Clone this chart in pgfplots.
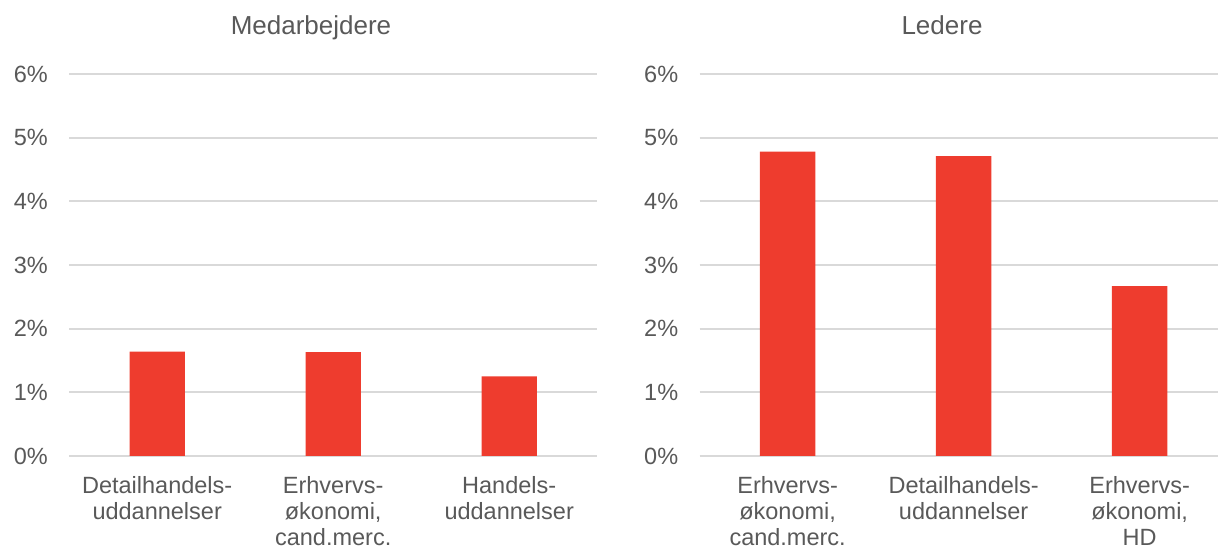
\documentclass[border=0pt]{standalone}
\usepackage{fontspec}
\setmainfont{Liberation Sans}
\usepackage{pgfplots}
\pgfplotsset{compat=1.18}
\definecolor{barred}{RGB}{238,60,46}
\definecolor{gridgray}{RGB}{217,217,217}
\definecolor{txtgray}{RGB}{89,89,89}
\pgfplotsset{mystyle/.style={
  scale only axis, height=191pt,
  ymin=0, ymax=6, ytick={0,1,2,3,4,5,6},
  yticklabels={0\%,1\%,2\%,3\%,4\%,5\%,6\%},
  xtick={0,1,2}, xmin=-0.5,
  axis line style={draw=none},
  major tick length=0pt,
  ymajorgrids, grid style={gridgray, line width=1pt},
  tick label style={font=\fontsize{11.75}{13}\selectfont, text=txtgray},
  yticklabel style={anchor=east, inner sep=0pt, xshift=-10.5pt},
  xticklabel style={align=center, anchor=north, inner sep=0pt, yshift=-10pt},
  ybar, bar width=27.7pt,
}}
\begin{document}
\begin{tikzpicture}
\begin{axis}[mystyle, at={(34.6pt,47pt)}, anchor=south west, width=264pt, xmax=2.5,
  xticklabels={{Detailhandels-\\uddannelser},{Erhvervs-\\økonomi,\\cand.merc.},{Handels-\\uddannelser}}]
\addplot[fill=barred, draw=none] coordinates {(0,1.64) (1,1.63) (2,1.25)};
\end{axis}
\begin{axis}[mystyle, at={(349.8pt,47pt)}, anchor=south west, width=259.2pt, xmax=2.445,
  xticklabels={{Erhvervs-\\økonomi,\\cand.merc.},{Detailhandels-\\uddannelser},{Erhvervs-\\økonomi,\\HD}}]
\addplot[fill=barred, draw=none] coordinates {(0,4.78) (1,4.71) (2,2.67)};
\end{axis}
\node[anchor=base, inner sep=0pt, text=txtgray, font=\fontsize{13}{15}\selectfont] at (155.5pt,257.5pt) {Medarbejdere};
\node[anchor=base, inner sep=0pt, text=txtgray, font=\fontsize{13}{15}\selectfont] at (471pt,257.5pt) {Ledere};
\pgfresetboundingbox
\path[use as bounding box] (0,0) rectangle (609pt,275pt);
\end{tikzpicture}
\end{document}
